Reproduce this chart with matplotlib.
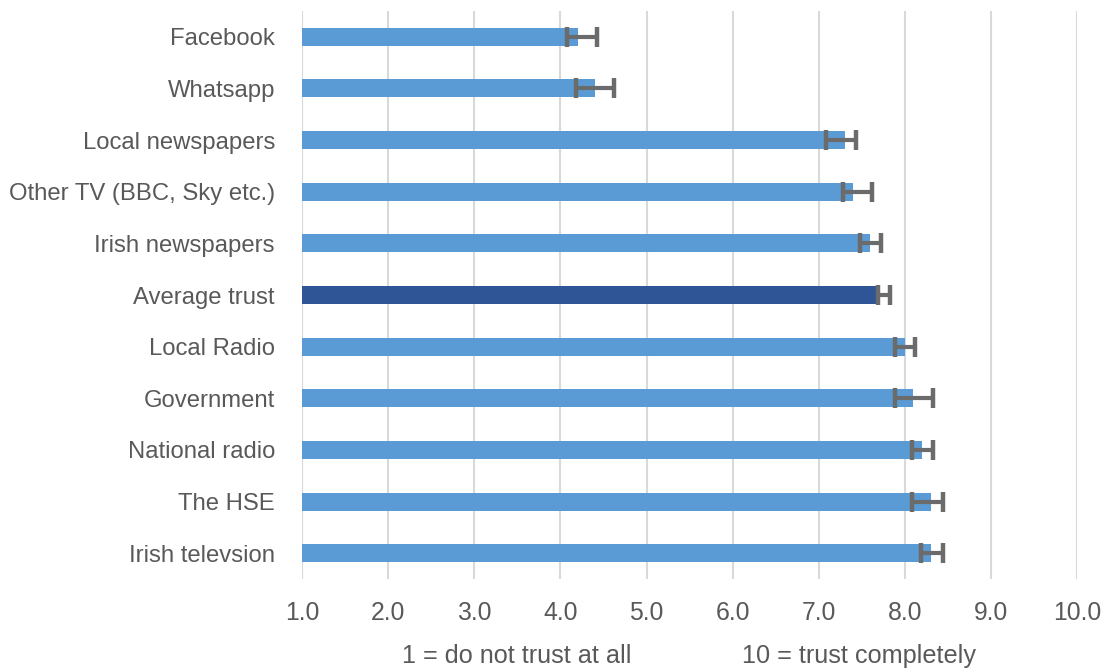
import numpy as np
import matplotlib.pyplot as plt

plt.rcParams['font.family'] = ['Liberation Sans', 'DejaVu Sans']

# sources, top to bottom as shown
sources = ['Facebook', 'Whatsapp', 'Local newspapers', 'Other TV (BBC, Sky etc.)',
           'Irish newspapers', 'Average trust', 'Local Radio', 'Government',
           'National radio', 'The HSE', 'Irish televsion']
trust = [4.20, 4.40, 7.30, 7.40, 7.60, 7.71, 8.00, 8.10, 8.20, 8.30, 8.30]
ci_low = [4.08, 4.18, 7.08, 7.28, 7.48, 7.69, 7.88, 7.88, 8.08, 8.08, 8.19]
ci_high = [4.42, 4.62, 7.43, 7.62, 7.72, 7.83, 8.12, 8.33, 8.33, 8.44, 8.44]
xticks = [1, 2, 3, 4, 5, 6, 7, 8, 9, 10]

txt = '#595959'
colors = ['#2F5597' if s == 'Average trust' else '#5B9BD5' for s in sources]

fig = plt.figure(figsize=(11.08, 6.70), dpi=100)
ax = fig.add_axes([0.2726, 0.1358, 0.6995, 0.8478])

y = np.arange(len(sources))
vals = np.array(trust)
xerr = [vals - np.array(ci_low), np.array(ci_high) - vals]

ax.barh(y, vals, height=0.35, color=colors, zorder=2)
ax.errorbar(vals, y, xerr=xerr, fmt='none', ecolor='#6B6B6B',
            elinewidth=3, capsize=7, capthick=3.2, zorder=3)

ax.set_xlim(1, 10)
ax.set_ylim(len(sources) - 0.5, -0.5)
ax.set_xticks(xticks)
ax.set_xticklabels([f'{v:.1f}' for v in xticks])
ax.set_yticks(y)
ax.set_yticklabels(sources)
ax.tick_params(axis='both', length=0, colors=txt)
ax.tick_params(axis='x', pad=16, labelsize=17.8)
ax.tick_params(axis='y', pad=19.5, labelsize=17.2)

ax.grid(axis='x', color='#D9D9D9', linewidth=1.5, zorder=0)
ax.set_axisbelow(True)
for sp in ax.spines.values():
    sp.set_visible(False)

fig.text(0.466, 0.0104, '1 = do not trust at all', color=txt, fontsize=18.2,
         ha='center', va='baseline')
fig.text(0.775, 0.0104, '10 = trust completely', color=txt, fontsize=18.2,
         ha='center', va='baseline')

fig.savefig('out.png', dpi=100)
